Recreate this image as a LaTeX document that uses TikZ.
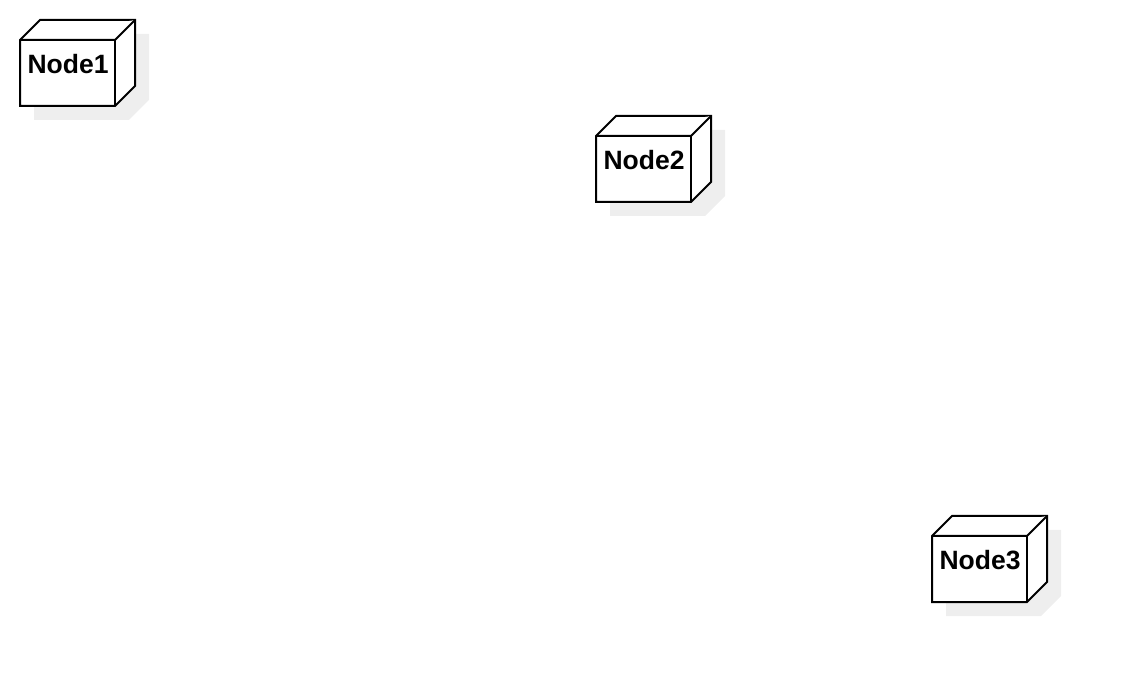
\documentclass[tikz,border=0pt]{standalone}
\usepackage{fontspec}
\setmainfont{Liberation Sans}
\definecolor{shadowgray}{HTML}{EEEEEE}
\tikzset{
  lbl/.style={font=\fontsize{26.5}{31}\selectfont\bfseries, inner sep=0pt},
  box/.style={draw=black, line width=2pt, fill=white, line join=miter},
}
\newcommand{\umlnode}[4]{% name, x, y (front top-left), label
  \fill[shadowgray] (#2+14,#3+14) -- (#2+34,#3-6) -- (#2+129,#3-6) -- (#2+129,#3+60) -- (#2+109,#3+80) -- (#2+14,#3+80) -- cycle;
  \draw[box] (#2,#3) -- (#2+20,#3-20) -- (#2+115,#3-20) -- (#2+115,#3+46) -- (#2+95,#3+66) -- (#2,#3+66) -- cycle;
  \draw[box] (#2,#3) -- (#2+95,#3) -- (#2+115,#3-20);
  \draw[box] (#2+95,#3) -- (#2+95,#3+66);
  \node[lbl] (#1) at (#2+48,#3+24) {#4};
}
\begin{document}
\begin{tikzpicture}[x=1pt,y=-1pt]
\useasboundingbox (0,0) rectangle (1128,684);
\umlnode{n1}{20}{40}{Node1}
\umlnode{n2}{596}{136}{Node2}
\umlnode{n3}{932}{536}{Node3}
\end{tikzpicture}
\end{document}
